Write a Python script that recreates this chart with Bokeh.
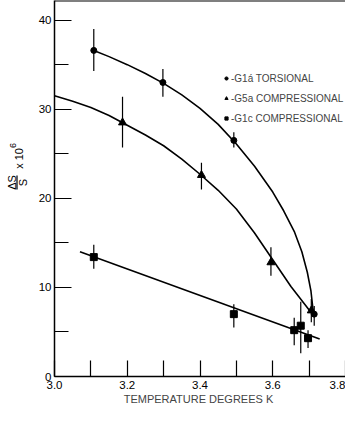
import math
from bokeh.plotting import figure
from bokeh.layouts import row
from bokeh.models import Range1d, FixedTicker, Span, Legend, LegendItem
from bokeh.core.properties import value
from bokeh.embed import file_html
from bokeh.resources import INLINE

# ---- data ----
tors_x = [3.108, 3.298, 3.493, 3.714]
tors_y = [36.6, 33.0, 26.5, 7.0]
tors_lo = [34.3, 31.4, 25.7, 5.7]
tors_hi = [39.0, 34.5, 27.4, 7.9]

g5a_x = [3.187, 3.404, 3.595, 3.706]
g5a_y = [28.5, 22.6, 12.8, 7.4]
g5a_lo = [25.7, 21.0, 11.3, 6.1]
g5a_hi = [31.4, 24.0, 14.5, 8.7]

g1c_x = [3.108, 3.493, 3.659, 3.677, 3.697]
g1c_y = [13.4, 7.0, 5.2, 5.7, 4.3]
g1c_lo = [12.1, 5.5, 3.5, 2.6, 3.2]
g1c_hi = [14.8, 8.1, 6.6, 8.4, 5.2]

tors_curve_x = [3.108, 3.15, 3.2, 3.25, 3.3, 3.35, 3.4, 3.45, 3.5, 3.55, 3.6,
                3.63, 3.66, 3.68, 3.695, 3.705, 3.712]
tors_curve_y = [36.6, 35.9, 35.0, 34.0, 32.9, 31.6, 30.1, 28.3, 26.1, 23.6, 20.7,
                18.6, 16.2, 14.0, 11.7, 9.6, 7.0]

g5a_curve_x = [3.0, 3.05, 3.1, 3.15, 3.2, 3.25, 3.3, 3.35, 3.4, 3.45, 3.5,
               3.55, 3.6, 3.65, 3.707]
g5a_curve_y = [31.5, 30.9, 30.2, 29.3, 28.2, 27.1, 25.9, 24.4, 22.7, 20.9, 18.8,
               16.1, 13.1, 10.1, 7.1]

g1c_line_x = [3.07, 3.729]
g1c_line_y = [14.0, 4.2]

x_major = [3.0, 3.2, 3.4, 3.6, 3.8]
x_major_labels = ["3.0", "3.2", "3.4", "3.6", "3.8"]
x_minor = [3.1, 3.3, 3.5, 3.7]
y_major = [0, 10, 20, 30, 40]
y_major_labels = ["0", "10", "20", "30", "40"]
y_minor = [5, 15, 25, 35]

labels = ["-G1a\u0301 TORSIONAL", "-G5a COMPRESSIONAL", "-G1c COMPRESSIONAL"]
ylabel_num = "\u0394S"
ylabel_den = "S"
ylabel_times = "x 10"
ylabel_exp = "6"
xlabel = "TEMPERATURE  DEGREES K"

FONT = "Liberation Sans"

p = figure(width=311, height=407, output_backend="svg", toolbar_location=None,
           x_range=Range1d(3.0, 3.8), y_range=Range1d(0, 42.2),
           min_border_left=20, min_border_right=0, min_border_top=0,
           min_border_bottom=30)
p.outline_line_color = None
p.grid.grid_line_color = None

# axes
p.xaxis.ticker = FixedTicker(ticks=x_major, minor_ticks=x_minor)
p.yaxis.ticker = FixedTicker(ticks=y_major, minor_ticks=y_minor)
p.xaxis.major_label_overrides = dict(zip(x_major, x_major_labels))
p.yaxis.major_label_overrides = dict(zip(y_major, y_major_labels))
for ax in (p.xaxis[0], p.yaxis[0]):
    ax.axis_line_color = "black"
    ax.axis_line_width = 1.5
    ax.major_tick_line_color = "black"
    ax.minor_tick_line_color = "black"
    ax.major_tick_line_width = 1.2
    ax.minor_tick_line_width = 1.2
    ax.major_tick_out = 0
    ax.minor_tick_out = 0
    ax.major_label_text_font = FONT
    ax.major_label_text_font_size = "11.5px"
    ax.major_label_text_color = "black"
p.xaxis.major_tick_in = 16
p.xaxis.minor_tick_in = 16
p.yaxis.major_tick_in = 17
p.yaxis.minor_tick_in = 14
p.xaxis.major_label_standoff = 4
p.yaxis.major_label_standoff = 3
p.xaxis.axis_label = xlabel
p.xaxis.axis_label_text_font = FONT
p.xaxis.axis_label_text_font_style = "normal"
p.xaxis.axis_label_text_font_size = "11px"
p.xaxis.axis_label_standoff = 1

p.add_layout(Span(location=42.2, dimension="width", line_color="black", line_width=2))

# curves
p.line(tors_curve_x, tors_curve_y, line_color="black", line_width=1.6)
p.line(g5a_curve_x, g5a_curve_y, line_color="black", line_width=1.6)
p.line(g1c_line_x, g1c_line_y, line_color="black", line_width=1.6)

# error bars
for xs, lo, hi in ((tors_x, tors_lo, tors_hi), (g5a_x, g5a_lo, g5a_hi), (g1c_x, g1c_lo, g1c_hi)):
    p.segment(x0=xs, y0=lo, x1=xs, y1=hi, line_color="black", line_width=1.2)

r1 = p.scatter(tors_x, tors_y, marker="circle", size=6, color="black")
r2 = p.scatter(g5a_x, g5a_y, marker="triangle", size=8, color="black")
r3 = p.scatter(g1c_x, g1c_y, marker="square", size=7, color="black")

legend = Legend(items=[LegendItem(label=labels[0], renderers=[r1]),
                       LegendItem(label=labels[1], renderers=[r2]),
                       LegendItem(label=labels[2], renderers=[r3])],
                location=(168, 251), orientation="vertical",
                background_fill_alpha=0, border_line_color=None,
                label_text_font=FONT, label_text_font_size="10px",
                glyph_width=8, glyph_height=14, label_height=14,
                spacing=6, padding=0, margin=0, label_standoff=1)
p.add_layout(legend, "center")

# y-axis label panel: (ΔS / S) x 10^6, rotated
lab = figure(width=34, height=407, output_backend="svg", toolbar_location=None,
             x_range=Range1d(0, 34), y_range=Range1d(0, 407),
             min_border=0, x_axis_type=None, y_axis_type=None)
lab.outline_line_color = None
lab.grid.grid_line_color = None
common = dict(angle=math.pi / 2, text_align="center", text_baseline="middle",
              text_font=value(FONT), text_color="black")
lab.text(x=[11], y=[210], text=[ylabel_num], text_font_size="11px", **common)
lab.text(x=[22.5], y=[210], text=[ylabel_den], text_font_size="11px", **common)
lab.segment(x0=[16.5], y0=[202.5], x1=[16.5], y1=[217.5], line_color="black", line_width=1.2)
lab.text(x=[18], y=[236], text=[ylabel_times], text_font_size="11px", **common)
lab.text(x=[12.5], y=[250], text=[ylabel_exp], text_font_size="9px", **common)

layout = row(lab, p, spacing=0)
open("out.html", "w").write(file_html(layout, INLINE))
